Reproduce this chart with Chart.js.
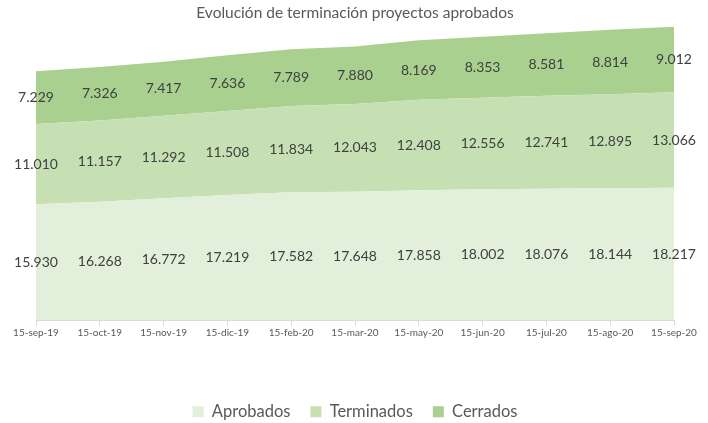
<!DOCTYPE html>
<html>
<head>
<meta charset="utf-8">
<script src="https://cdn.jsdelivr.net/npm/chart.js@4"></script>
<style>
  body { margin: 0; background: #fff; }
  #wrap { width: 708px; height: 423px; }
</style>
</head>
<body>
<div id="wrap"><canvas id="chart" width="708" height="423"></canvas></div>
<script>
const labels = ["15-sep-19", "15-oct-19", "15-nov-19", "15-dic-19", "15-feb-20", "15-mar-20",
  "15-may-20", "15-jun-20", "15-jul-20", "15-ago-20", "15-sep-20"];
const aprobados = [15930, 16268, 16772, 17219, 17582, 17648, 17858, 18002, 18076, 18144, 18217];
const terminados = [11010, 11157, 11292, 11508, 11834, 12043, 12408, 12556, 12741, 12895, 13066];
const cerrados = [7229, 7326, 7417, 7636, 7789, 7880, 8169, 8353, 8581, 8814, 9012];

const fmt = v => v.toLocaleString("de-DE");

// values drawn in the middle of each band
const bandLabels = {
  id: "bandLabels",
  afterDatasetsDraw(chart) {
    const ctx = chart.ctx;
    const yScale = chart.scales.y;
    ctx.save();
    ctx.font = "14px Lato";
    ctx.fillStyle = "#404040";
    ctx.textAlign = "center";
    ctx.textBaseline = "middle";
    chart.data.datasets.forEach((ds, di) => {
      const meta = chart.getDatasetMeta(di);
      meta.data.forEach((pt, i) => {
        const base = di === 0 ? yScale.getPixelForValue(0) : chart.getDatasetMeta(di - 1).data[i].y;
        ctx.fillText(fmt(ds.data[i]), pt.x, (pt.y + base) / 2);
      });
    });
    ctx.restore();
  }
};

new Chart(document.getElementById("chart"), {
  type: "line",
  data: {
    labels: labels,
    datasets: [
      { label: "Aprobados", data: aprobados, backgroundColor: "#e2efda", borderColor: "#e2efda", fill: "origin" },
      { label: "Terminados", data: terminados, backgroundColor: "#c6e0b4", borderColor: "#c6e0b4", fill: "-1" },
      { label: "Cerrados", data: cerrados, backgroundColor: "#a9d08e", borderColor: "#a9d08e", fill: "-1" }
    ]
  },
  options: {
    responsive: false,
    animation: false,
    layout: { padding: { left: 36, right: 34, top: 0, bottom: -7 } },
    elements: { point: { radius: 0 }, line: { borderWidth: 0, tension: 0 } },
    plugins: {
      title: {
        display: true,
        text: "Evolución de terminación proyectos aprobados",
        color: "#595959",
        font: { family: "Lato", size: 15.5, weight: "normal" },
        padding: { top: 4, bottom: 4 }
      },
      legend: {
        position: "bottom",
        labels: {
          color: "#595959",
          font: { family: "Lato", size: 16.5 },
          boxWidth: 11,
          boxHeight: 11,
          padding: 20
        }
      },
      tooltip: { enabled: false }
    },
    scales: {
      x: {
        grid: { drawOnChartArea: false, drawTicks: true, tickLength: 5, color: "#d9d9d9" },
        border: { color: "#d9d9d9" },
        ticks: {
          color: "#595959",
          font: { family: "Lato", size: 10 },
          maxRotation: 0,
          autoSkip: false,
          padding: 1
        },
        afterFit: s => { s.height = 63; }
      },
      y: {
        stacked: true,
        display: false,
        min: 0,
        max: 40300
      }
    }
  },
  plugins: [bandLabels]
});
</script>
</body>
</html>
